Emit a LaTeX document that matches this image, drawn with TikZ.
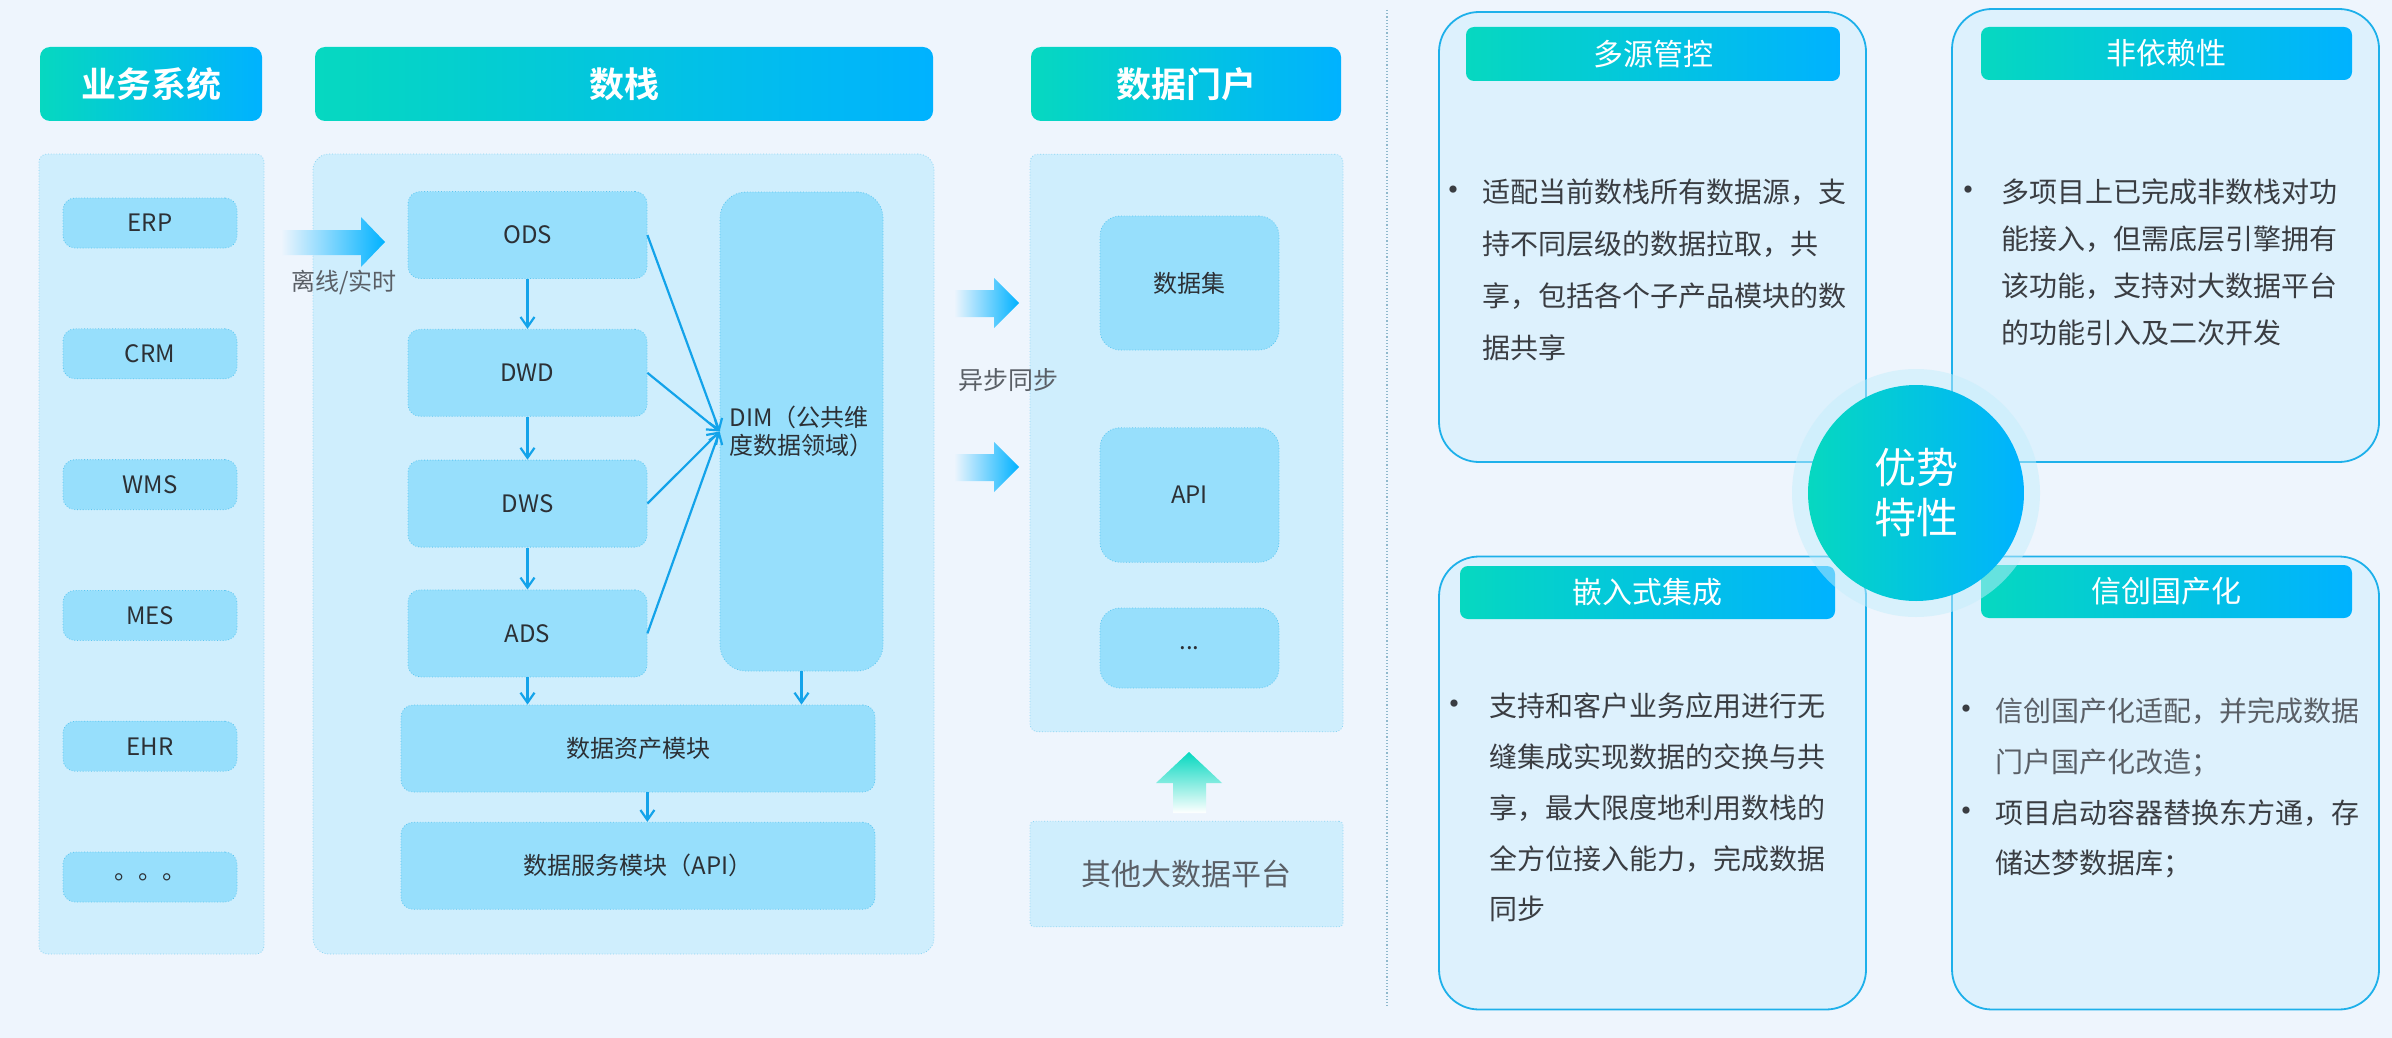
\documentclass[tikz,border=0pt]{standalone}
\usepackage{fontspec}
\setmainfont{Noto Sans CJK SC}[BoldFont={Noto Sans CJK SC Bold}]
\usepackage{tikz}
\usetikzlibrary{arrows.meta,positioning,calc}
\definecolor{pagebg}{HTML}{EEF5FD}
\definecolor{ink}{HTML}{2C3035}
\definecolor{graytext}{HTML}{5A5F66}
\definecolor{panelbg}{HTML}{CFEEFD}
\definecolor{panelline}{HTML}{8AD4F2}
\definecolor{cellbg}{HTML}{97DFFC}
\definecolor{cellline}{HTML}{5CC6F0}
\definecolor{headteal}{HTML}{06D8C0}
\definecolor{headblue}{HTML}{00B2FF}
\definecolor{flow}{HTML}{13A3EA}
\definecolor{cardbg}{HTML}{DDF1FD}
\definecolor{cardline}{HTML}{1DB0EA}
\definecolor{sepline}{HTML}{8FB8CC}
\definecolor{cardtext}{HTML}{3A3D42}
\definecolor{glow}{HTML}{C4EEFC}
\newcommand{\bul}[1]{\llap{{\fontsize{17}{17}\selectfont •}\hspace{#1}}}
\tikzset{
  >={Straight Barb[length=5pt,width=7pt]},
  every node/.style={text=ink},
  head/.style={rounded corners=5pt,left color=headteal,right color=headblue,text=white,font=\fontsize{17.5}{20}\selectfont\bfseries,minimum height=37pt,inner sep=0pt},
  panel/.style={draw=panelline,densely dotted,fill=panelbg,rounded corners=4pt,inner sep=0pt},
  cell/.style={draw=cellline,densely dotted,fill=cellbg,rounded corners=6pt,inner sep=0pt,font=\fontsize{12}{14}\selectfont},
  bizcell/.style={cell,minimum width=87pt,minimum height=25pt},
  layer/.style={cell,minimum width=119.5pt,minimum height=43.5pt},
  portcell/.style={cell,rounded corners=10pt,minimum width=89.5pt},
  flowarr/.style={->,draw=flow,line width=1.1pt},
  card/.style={draw=cardline,line width=0.9pt,fill=cardbg,rounded corners=20pt,inner sep=0pt},
  cardhead/.style={rounded corners=4pt,left color=headteal,right color=headblue,text=white,font=\fontsize{15}{18}\selectfont,inner sep=0pt},
  cardtxt/.style={text=cardtext,align=left,inner sep=0pt,anchor=west},
  hint/.style={text=graytext,font=\fontsize{12}{14}\selectfont}
}
\begin{document}
\begin{tikzpicture}[x=0.5pt,y=-0.5pt,node distance=40pt]
  \fill[pagebg] (0,0) rectangle (2392,1038);
  \useasboundingbox (0,0) rectangle (2392,1038);

  \node[head,minimum width=111pt] (hbiz) at (151,84) {业务系统};
  \node[head,minimum width=309pt] (hstack) at (624,84) {数栈};
  \node[head,minimum width=155pt] (hportal) at (1186,84) {数据门户};

  \node[panel,minimum width=112.5pt,minimum height=400pt] (pbiz) at (151.5,554) {};
  \node[panel,minimum width=310.5pt,minimum height=400pt,rounded corners=8pt] (pstack) at (623.5,554) {};
  \node[panel,minimum width=156.5pt,minimum height=288.8pt] (pportal) at (1186.5,443) {};
  \node[panel,minimum width=156.5pt,minimum height=52.75pt,rounded corners=2pt,text=graytext,font=\fontsize{15}{18}\selectfont] (other) at (1186.5,874) {其他大数据平台};

  \node[bizcell] (erp) at (150,223) {ERP};
  \node[bizcell,below=of erp] (crm) {CRM};
  \node[bizcell,below=of crm] (wms) {WMS};
  \node[bizcell,below=of wms] (mes) {MES};
  \node[bizcell,below=of mes] (ehr) {EHR};
  \node[bizcell,below=of ehr] (etc) {。。。};

  \node[layer] (ods) at (527.5,235) {ODS};
  \node[layer,below=25pt of ods] (dwd) {DWD};
  \node[layer,below=21.5pt of dwd] (dws) {DWS};
  \node[layer,below=21pt of dws] (ads) {ADS};
  \node[cell,rounded corners=13pt,minimum width=81.5pt,minimum height=239.5pt,align=left] (dim) at (801.5,431.5) {DIM（公共维\\度数据领域）};
  \node[cell,minimum width=237pt,minimum height=43.5pt] (asset) at (638,748.5) {数据资产模块};
  \node[cell,minimum width=237pt,minimum height=43.5pt,below=14.75pt of asset] (service) {数据服务模块（API）};

  \node[portcell,minimum height=67pt] (dataset) at (1189.5,283) {数据集};
  \node[portcell,minimum height=67.25pt] (api) at (1189.5,495) {API};
  \node[portcell,minimum height=40pt] (more) at (1189.5,648) {...};

  \draw[flowarr] (ods)--(dwd);
  \draw[flowarr] (dwd)--(dws);
  \draw[flowarr] (dws)--(ads);
  \draw[flowarr] (ads.south)--(ads.south |- asset.north);
  \draw[flowarr] (dim.south)--(dim.south |- asset.north);
  \draw[flowarr] (ods.east |- asset.south)--(ods.east |- service.north);
  \draw[flowarr] (ods.east)--(dim.west);
  \draw[flowarr] (dwd.east)--(dim.west);
  \draw[flowarr] (dws.east)--(dim.west);
  \draw[flowarr] (ads.east)--(dim.west);

  \shade[left color=pagebg,right color=headblue] (281,230)--(361,230)--(361,217)--(385,242)--(361,267)--(361,255)--(281,255)--cycle;
  \node[hint] (offline) at (344,282) {离线/实时};
  \shade[left color=pagebg,right color=headblue] (954,290)--(994,290)--(994,278)--(1019,303)--(994,328)--(994,317)--(954,317)--cycle;
  \shade[left color=pagebg,right color=headblue] (954,454)--(994,454)--(994,442)--(1019,467)--(994,492)--(994,481)--(954,481)--cycle;
  \node[hint,font=\fontsize{12.5}{14}\selectfont] (sync) at (1008,380) {异步同步};
  \shade[top color=headteal,middle color=headblue,bottom color=white] (1189,752)--(1222,783)--(1206,783)--(1206,813)--(1173,813)--(1173,783)--(1156,783)--cycle;

  \draw[sepline,densely dotted,line width=0.6pt] (1387,10)--(1387,1008);

  \node[card,minimum width=213.5pt,minimum height=225pt] (c1) at (1652.5,237) {};
  \node[card,minimum width=213.5pt,minimum height=226.5pt] (c2) at (2165.5,235.5) {};
  \node[card,minimum width=213.5pt,minimum height=226.5pt] (c3) at (1652.5,783) {};
  \node[card,minimum width=213.5pt,minimum height=226.5pt] (c4) at (2165.5,783) {};
  \node[cardhead,minimum width=187pt,minimum height=27pt] (h1) at (1653,54) {多源管控};
  \node[cardhead,minimum width=185.5pt,minimum height=26.5pt] (h2) at (2166.5,53.5) {非依赖性};
  \node[cardhead,minimum width=187.5pt,minimum height=26.5pt] (h3) at (1647.5,592.5) {嵌入式集成};
  \node[cardhead,minimum width=185.5pt,minimum height=26.5pt] (h4) at (2166.5,591.5) {信创国产化};

  \node[cardtxt,font=\fontsize{14}{26}\selectfont] (t1) at (1482,270) {\bul{6pt}适配当前数栈所有数据源，支\\持不同层级的数据拉取，共\\享，包括各个子产品模块的数\\据共享};
  \node[cardtxt,font=\fontsize{14}{23.5}\selectfont] (t2) at (2001,262.5) {\bul{8pt}多项目上已完成非数栈对功\\能接入，但需底层引擎拥有\\该功能，支持对大数据平台\\的功能引入及二次开发};
  \node[cardtxt,font=\fontsize{14}{25.4}\selectfont] (t3) at (1489,807.5) {\bul{9pt}支持和客户业务应用进行无\\缝集成实现数据的交换与共\\享，最大限度地利用数栈的\\全方位接入能力，完成数据\\同步};
  \node[cardtxt,font=\fontsize{14}{25.4}\selectfont] (t4) at (1995,788) {\bul{6pt}{\color{graytext}信创国产化适配，并完成数据}\\{\color{graytext}门户国产化改造；}\\\bul{6pt}项目启动容器替换东方通，存\\储达梦数据库；};

  \node[circle,minimum size=124pt,fill=glow,opacity=0.5] (halo) at (1916,493) {};
  \node[circle,minimum size=108pt,inner sep=0pt,left color=headteal,right color=headblue,text=white,font=\fontsize{21}{25}\selectfont,align=center] (adv) at (1916,493) {优势\\特性};
\end{tikzpicture}
\end{document}
